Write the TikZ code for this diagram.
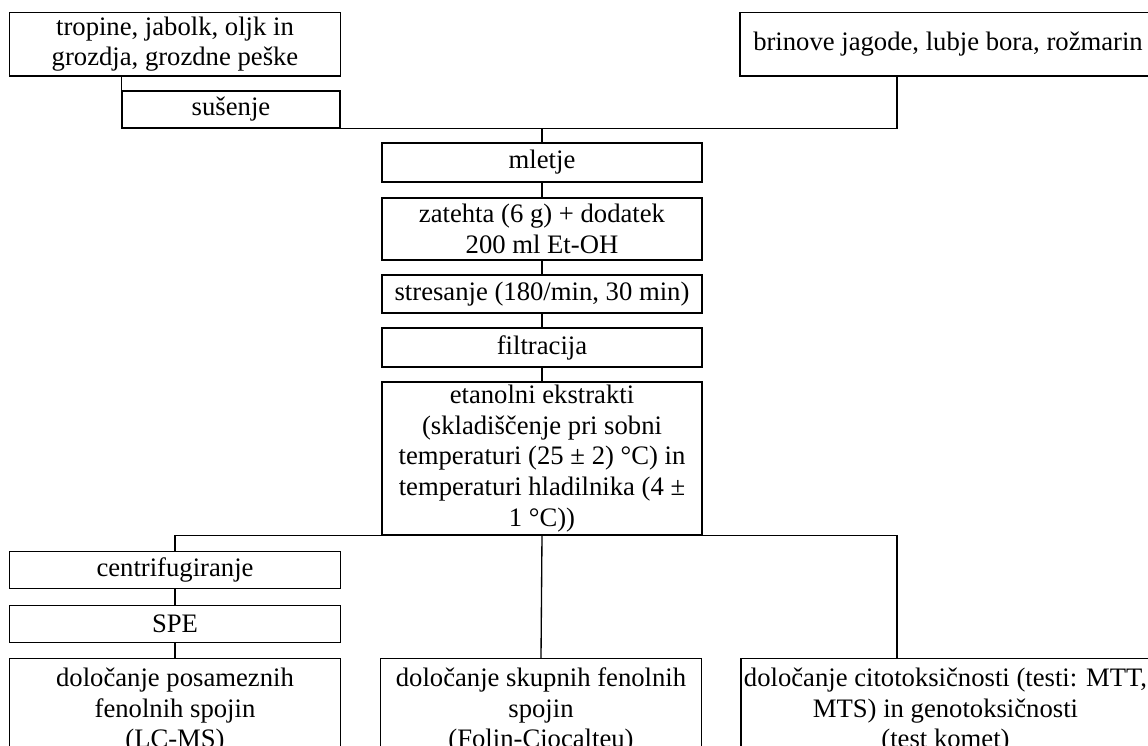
\documentclass[tikz,border=0pt]{standalone}
\usepackage{fontspec}
\setmainfont{Liberation Serif}
\tikzset{stepbox/.style={black,draw=black,line width=0.6pt,rectangle,inner sep=0pt,align=center,font=\fontsize{12pt}{13.8pt}\selectfont}}
\tikzset{link/.style={draw=black,line width=0.6pt}}

\begin{document}
\begin{tikzpicture}[x=0.45pt,y=-0.45pt]

            \useasboundingbox (0,0) rectangle (1148,746);
            \clip (0,0) rectangle (1148,746);
            % raw materials
            \node[stepbox,minimum width=148.7pt,minimum height=28.5pt] (tropine) at (175,44.3) {tropine, jabolk, oljk in\\grozdja, grozdne peške};
            \node[stepbox,minimum width=187.2pt,minimum height=28.5pt] (brinove) at (948,44.3) {brinove jagode, lubje bora, rožmarin};
            \node[stepbox,minimum width=98.1pt,minimum height=16.65pt] (susenje) at (231,109.5) {sušenje};
            % extraction
            \node[stepbox,minimum width=144pt,minimum height=17.55pt] (mletje) at (542,162.5) {mletje};
            \node[stepbox,minimum width=144pt,minimum height=27.9pt] (zatehta) at (542,229) {zatehta (6 g) + dodatek\\200 ml Et-OH};
            \node[stepbox,minimum width=144pt,minimum height=17.1pt] (stresanje) at (542,294) {stresanje (180/min, 30 min)};
            \node[stepbox,minimum width=144pt,minimum height=17.55pt] (filtracija) at (542,347.5) {filtracija};
            \node[stepbox,minimum width=144pt,minimum height=68.85pt] (ekstrakti) at (542,458.5) {etanolni ekstrakti\\(skladiščenje pri sobni\\temperaturi (25 ± 2) °C) in\\temperaturi hladilnika (4 ±\\1 °C))};
            % analyses
            \node[stepbox,minimum width=148.7pt,minimum height=16.9pt] (centri) at (175,570) {centrifugiranje};
            \node[stepbox,minimum width=148.7pt,minimum height=16.9pt] (spe) at (175,624) {SPE};
            \node[stepbox,anchor=north,minimum width=148.7pt,minimum height=46.8pt] (posamezne) at (175,658) {določanje posameznih\\fenolnih spojin\\(LC-MS)};
            \node[stepbox,anchor=north,minimum width=144.5pt,minimum height=46.8pt] (skupne) at (541,658) {določanje skupnih fenolnih\\spojin\\(Folin-Ciocalteu)};
            \node[stepbox,anchor=north,minimum width=184pt,minimum height=46.8pt] (toks) at (945.5,658) {določanje citotoksičnosti (testi: MTT,\\MTS) in genotoksičnosti\\(test komet)};
            \coordinate (brinfoot) at (897,76);
            \coordinate (toksfoot) at (897,658);

            \draw[link] (tropine.south -| susenje.west) -- (susenje.north west);
            \draw[link] (susenje.south east) -| (brinfoot);
            \draw[link] (mletje.north) -- (mletje.north |- susenje.south);
            \draw[link] (mletje) -- (zatehta);
            \draw[link] (zatehta) -- (stresanje);
            \draw[link] (stresanje) -- (filtracija);
            \draw[link] (filtracija) -- (ekstrakti);
            \draw[link] (centri.north) |- (ekstrakti.south) -| (toksfoot);
            \draw[link] (ekstrakti.south) -- (skupne.north);
            \draw[link] (centri) -- (spe);
            \draw[link] (spe) -- (posamezne);
\end{tikzpicture}
\end{document}
